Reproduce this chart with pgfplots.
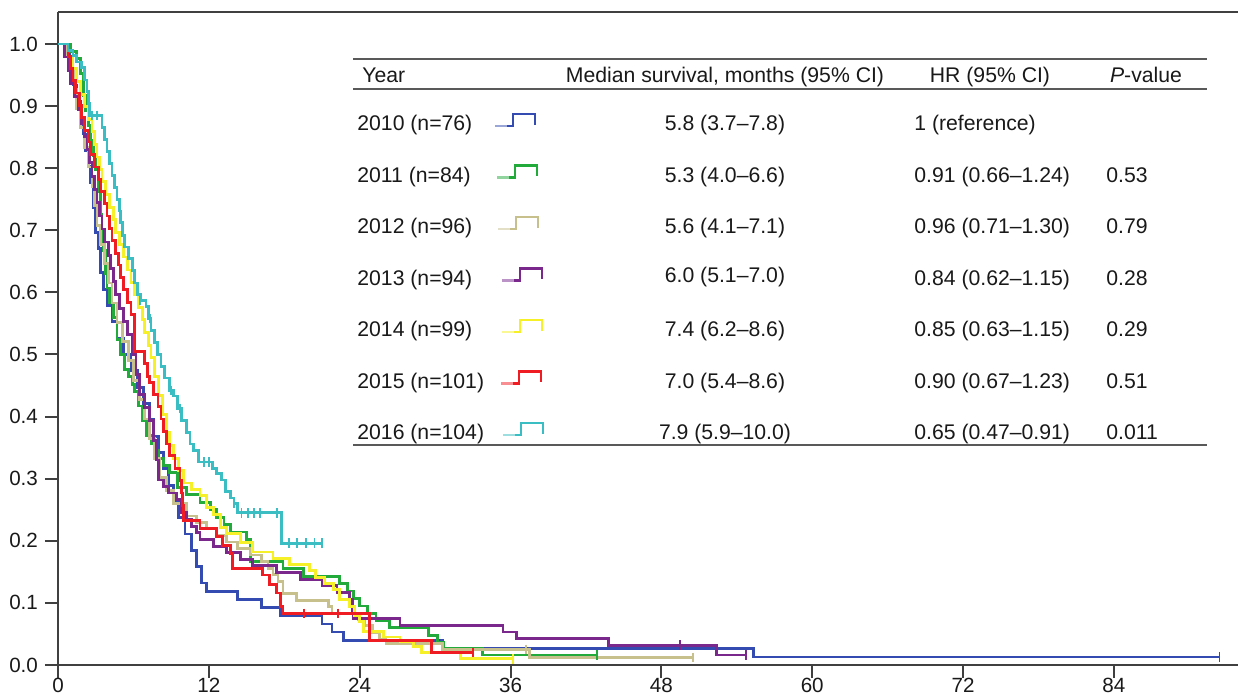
\documentclass[border=0pt]{standalone}
\usepackage{pgfplots}
\pgfplotsset{compat=1.18}
\usepackage{fontspec}
\setmainfont{Liberation Sans}

\definecolor{c2010}{RGB}{52,76,178}
\definecolor{c2011}{RGB}{34,170,58}
\definecolor{c2012}{RGB}{200,192,140}
\definecolor{c2013}{RGB}{122,40,140}
\definecolor{c2014}{RGB}{246,240,40}
\definecolor{c2015}{RGB}{240,28,36}
\definecolor{c2016}{RGB}{58,190,196}
\colorlet{axcol}{black!75}

% small step glyph for the table legend
\newcommand{\legicon}[3]{%
  \draw[#1!50, line width=1.4pt] (#2,#3+2.5) -- (#2+6,#3+2.5);
  \draw[#1, line width=1.4pt] (#2+6,#3+2.5) -- (#2+9,#3+2.5) -- (#2+9,#3+8.5)
        -- (#2+20,#3+8.5) -- (#2+20,#3+3);}

\begin{document}
\begin{tikzpicture}[x=1pt,y=1pt]
\begin{axis}[
    at={(0,0)}, anchor=south west,
    scale only axis, width=590pt, height=326.5pt,
    xmin=0, xmax=93.87, ymin=0, ymax=1.0515,
    axis lines=left,
    axis line style={-, line width=1pt, axcol},
    xtick={0,12,24,36,48,60,72,84},
    ytick={0,0.1,0.2,0.3,0.4,0.5,0.6,0.7,0.8,0.9,1.0},
    tick align=outside, major tick length=6.5pt,
    tick style={line width=1pt, axcol},
    /pgf/number format/assume math mode=true,
    yticklabel style={/pgf/number format/.cd, fixed, fixed zerofill, precision=1, /tikz/.cd},
    xticklabel style={yshift=3.5pt},
    ticklabel style={font=\fontsize{10.3}{12}\selectfont, text=black!90},
    every axis plot/.append style={const plot, line width=1.4pt},
]
\draw[line width=1pt, axcol] (rel axis cs:0,1) -- (rel axis cs:1,1);

% 2010
\addplot[c2010] coordinates {
(0,1.000)(0.5,0.987)(0.9,0.961)(1.2,0.934)(1.5,0.908)(1.8,0.882)(2.0,0.855)(2.2,0.829)
(2.4,0.803)(2.6,0.776)(2.8,0.737)(3.0,0.697)(3.2,0.671)(3.4,0.632)(3.6,0.605)(3.9,0.579)
(4.3,0.553)(4.7,0.526)(5.2,0.500)(5.8,0.474)(6.3,0.447)(6.8,0.421)(7.3,0.395)(7.6,0.368)
(8.0,0.342)(8.4,0.316)(8.8,0.289)(9.2,0.263)(9.6,0.237)(10.1,0.211)(10.6,0.184)(11.0,0.158)
(11.4,0.132)(11.8,0.118)(14.3,0.105)(16.2,0.092)(17.7,0.079)(21.0,0.066)(21.8,0.053)
(22.7,0.040)(30.6,0.027)(55.3,0.013)(92.4,0.013)};

% 2011
\addplot[c2011] coordinates {
(0,1.000)(1.0,0.988)(1.5,0.976)(1.8,0.952)(2.0,0.917)(2.2,0.893)(2.4,0.869)(2.6,0.845)
(2.8,0.821)(3.0,0.798)(3.2,0.762)(3.4,0.726)(3.5,0.702)(3.6,0.667)(3.8,0.631)(3.9,0.607)
(4.1,0.583)(4.4,0.560)(4.7,0.524)(5.0,0.500)(5.3,0.476)(5.6,0.464)(5.9,0.452)(6.1,0.440)
(6.4,0.417)(6.7,0.393)(7.05,0.369)(7.45,0.357)(7.7,0.345)(8.0,0.333)(8.4,0.321)(8.9,0.310)
(9.5,0.286)(10.2,0.274)(11.3,0.262)(12.1,0.250)(12.6,0.238)(13.2,0.226)(13.7,0.214)
(15.0,0.202)(15.3,0.167)(17.9,0.155)(19.5,0.143)(22.4,0.131)(23.0,0.119)(23.5,0.107)
(24.0,0.095)(24.6,0.083)(25.3,0.071)(26.4,0.060)(29.5,0.048)(30.2,0.036)(30.7,0.027)
(33.8,0.016)(42.9,0.016)};

% 2012
\addplot[c2012] coordinates {
(0,1.000)(0.7,0.979)(1.0,0.958)(1.3,0.927)(1.5,0.896)(1.8,0.865)(2.1,0.833)(2.4,0.802)
(2.7,0.771)(2.9,0.740)(3.1,0.708)(3.4,0.677)(3.7,0.646)(4.0,0.615)(4.3,0.583)(4.7,0.552)
(5.1,0.521)(5.6,0.490)(6.0,0.458)(6.5,0.427)(6.9,0.396)(7.3,0.365)(7.7,0.333)(8.1,0.302)
(8.6,0.281)(9.2,0.260)(10.2,0.240)(11.0,0.229)(11.8,0.219)(12.6,0.208)(13.4,0.198)
(14.3,0.188)(15.3,0.177)(16.2,0.167)(16.7,0.156)(17.1,0.146)(17.5,0.135)(17.9,0.115)
(19.0,0.104)(21.5,0.094)(21.8,0.083)(23.9,0.073)(24.4,0.063)(25.0,0.052)(25.6,0.042)
(26.1,0.035)(30.6,0.025)(37.5,0.012)(50.5,0.012)};

% 2013
\addplot[c2013] coordinates {
(0,1.000)(0.5,0.979)(0.8,0.957)(1.0,0.936)(1.3,0.915)(1.6,0.894)(1.9,0.872)(2.1,0.851)
(2.3,0.830)(2.5,0.809)(2.7,0.787)(2.9,0.766)(3.1,0.745)(3.3,0.723)(3.5,0.702)(3.7,0.681)
(4.0,0.660)(4.2,0.638)(4.4,0.617)(4.6,0.596)(4.9,0.574)(5.2,0.553)(5.5,0.532)(5.9,0.500)
(6.2,0.468)(6.5,0.436)(6.9,0.415)(7.3,0.394)(7.6,0.362)(7.85,0.330)(8.0,0.298)(8.4,0.287)
(8.8,0.277)(9.4,0.266)(9.8,0.245)(10.2,0.234)(10.6,0.223)(11.0,0.213)(11.3,0.202)
(12.4,0.191)(13.4,0.181)(14.5,0.170)(15.5,0.160)(17.4,0.149)(19.3,0.138)(21.0,0.128)
(22.2,0.117)(23.2,0.106)(23.4,0.085)(23.5,0.075)(27.2,0.064)(35.4,0.053)(36.5,0.043)
(43.8,0.032)(52.4,0.016)(54.7,0.016)};

% 2014
\addplot[c2014] coordinates {
(0,1.000)(0.8,0.980)(1.2,0.960)(1.5,0.939)(1.8,0.919)(2.1,0.899)(2.4,0.879)(2.7,0.859)
(2.9,0.838)(3.1,0.818)(3.3,0.798)(3.5,0.778)(3.8,0.758)(4.1,0.737)(4.4,0.717)(4.6,0.697)
(4.9,0.677)(5.2,0.657)(5.5,0.636)(5.8,0.616)(6.1,0.596)(6.4,0.576)(6.7,0.556)(6.9,0.535)
(7.2,0.515)(7.4,0.495)(7.7,0.465)(8.0,0.434)(8.3,0.404)(8.6,0.374)(8.9,0.354)(9.2,0.333)
(9.6,0.313)(10.0,0.293)(10.6,0.283)(11.3,0.273)(11.8,0.253)(12.4,0.242)(12.9,0.222)
(13.4,0.212)(14.5,0.197)(15.5,0.182)(17.1,0.172)(18.4,0.162)(20.0,0.152)(20.5,0.141)
(21.2,0.131)(21.9,0.121)(22.4,0.105)(23.2,0.094)(23.6,0.080)(24.0,0.070)(24.3,0.054)
(25.9,0.045)(27.2,0.038)(28.3,0.030)(28.9,0.020)(32.0,0.010)(36.2,0.010)};

% 2015
\addplot[c2015] coordinates {
(0,1.000)(0.8,0.980)(1.0,0.960)(1.2,0.941)(1.4,0.921)(1.7,0.901)(1.9,0.881)(2.1,0.861)
(2.4,0.842)(2.6,0.822)(2.9,0.802)(3.2,0.782)(3.4,0.762)(3.7,0.743)(3.9,0.723)(4.1,0.703)
(4.3,0.683)(4.6,0.663)(4.8,0.644)(5.0,0.624)(5.2,0.604)(5.5,0.584)(5.8,0.564)(6.1,0.505)
(6.9,0.485)(7.1,0.465)(7.3,0.455)(7.6,0.436)(7.95,0.416)(8.2,0.396)(8.4,0.376)(8.6,0.356)
(8.9,0.337)(9.3,0.317)(9.7,0.297)(9.8,0.277)(9.9,0.257)(10.0,0.233)(11.3,0.220)
(12.6,0.207)(13.1,0.193)(13.7,0.180)(13.9,0.155)(16.3,0.145)(16.8,0.130)(17.4,0.116)
(17.7,0.094)(17.9,0.083)(24.8,0.040)(29.7,0.020)(33.0,0.020)};

% 2016
\addplot[c2016] coordinates {
(0,1.000)(0.8,0.990)(1.2,0.981)(1.5,0.971)(1.9,0.962)(2.1,0.942)(2.3,0.923)(2.4,0.904)
(2.5,0.885)(3.5,0.865)(3.7,0.846)(3.9,0.827)(4.1,0.808)(4.3,0.788)(4.5,0.769)(4.7,0.750)
(4.9,0.731)(5.0,0.712)(5.1,0.692)(5.3,0.673)(5.6,0.654)(5.9,0.635)(6.1,0.615)(6.3,0.596)
(6.6,0.587)(7.0,0.577)(7.2,0.558)(7.4,0.538)(7.7,0.519)(7.9,0.500)(8.2,0.481)(8.5,0.462)
(8.9,0.442)(9.2,0.433)(9.5,0.413)(9.8,0.394)(10.2,0.375)(10.5,0.356)(10.8,0.346)
(11.2,0.327)(12.3,0.317)(12.6,0.308)(13.0,0.298)(13.3,0.279)(13.7,0.269)(14.0,0.260)
(14.3,0.245)(17.8,0.196)(21.0,0.196)};

% censored observations
\pgfplotsset{cens/.style={only marks, mark=|, mark size=2.4pt, mark options={line width=0.9pt}}}
\addplot[cens, c2010] coordinates {(92.4,0.013)};
\addplot[cens, c2011] coordinates {(42.9,0.016)};
\addplot[cens, c2012] coordinates {(50.5,0.012)(37.2,0.025)};
\addplot[cens, c2013] coordinates {(49.5,0.032)(54.7,0.016)};
\addplot[cens, c2014] coordinates {(36.2,0.010)};
\addplot[cens, c2015] coordinates {(19.6,0.083)(22.3,0.083)(33.0,0.020)};
\addplot[cens, c2016] coordinates {
(2.7,0.885)(3.1,0.885)(6.5,0.587)(7.3,0.558)(9.0,0.442)(9.7,0.413)(11.6,0.327)(12.0,0.327)
(14.0,0.260)(14.6,0.245)(15.1,0.245)(15.6,0.245)(16.1,0.245)(17.4,0.245)
(18.4,0.196)(19.0,0.196)(19.7,0.196)(20.4,0.196)(21.0,0.196)};
\end{axis}

% table legend
\begin{scope}[every node/.style={font=\fontsize{10.6}{12}\selectfont, text=black!90, inner sep=0pt}]
\draw[line width=1pt, black!65] (147.5,303) -- (574.5,303);
\draw[line width=1pt, black!65] (147.5,288) -- (574.5,288);
\draw[line width=1pt, black!65] (147.5,110) -- (574.5,110);
\node[anchor=base west] at (152,291) {Year};
\node[anchor=base] at (333.5,291) {Median survival, months (95\% CI)};
\node[anchor=base] at (466,291) {HR (95\% CI)};
\node[anchor=base] at (544,291) {\textit{P}-value};

\node[anchor=base west] at (149.5,267) {2010 (n=76)};
\node[anchor=base west] at (149.5,241.25) {2011 (n=84)};
\node[anchor=base west] at (149.5,215.5) {2012 (n=96)};
\node[anchor=base west] at (149.5,189.75) {2013 (n=94)};
\node[anchor=base west] at (149.5,164) {2014 (n=99)};
\node[anchor=base west] at (149.5,138.25) {2015 (n=101)};
\node[anchor=base west] at (149.5,112.5) {2016 (n=104)};

\node[anchor=base] at (333.5,267) {5.8 (3.7–7.8)};
\node[anchor=base] at (333.5,241.25) {5.3 (4.0–6.6)};
\node[anchor=base] at (333.5,215.5) {5.6 (4.1–7.1)};
\node[anchor=base] at (333.5,191) {6.0 (5.1–7.0)};
\node[anchor=base] at (333.5,164) {7.4 (6.2–8.6)};
\node[anchor=base] at (333.5,138.25) {7.0 (5.4–8.6)};
\node[anchor=base] at (333.5,112.5) {7.9 (5.9–10.0)};

\node[anchor=base west] at (428,267) {1 (reference)};
\node[anchor=base west] at (428,241.25) {0.91 (0.66–1.24)};
\node[anchor=base west] at (428,215.5) {0.96 (0.71–1.30)};
\node[anchor=base west] at (428,189.75) {0.84 (0.62–1.15)};
\node[anchor=base west] at (428,164) {0.85 (0.63–1.15)};
\node[anchor=base west] at (428,138.25) {0.90 (0.67–1.23)};
\node[anchor=base west] at (428,112.5) {0.65 (0.47–0.91)};

\node[anchor=base west] at (524,241.25) {0.53};
\node[anchor=base west] at (524,215.5) {0.79};
\node[anchor=base west] at (524,189.75) {0.28};
\node[anchor=base west] at (524,164) {0.29};
\node[anchor=base west] at (524,138.25) {0.51};
\node[anchor=base west] at (524,112.5) {0.011};
\end{scope}

\legicon{c2010}{218.5}{267}
\legicon{c2011}{219.5}{241.25}
\legicon{c2012}{220}{215.5}
\legicon{c2013}{222}{189.75}
\legicon{c2014}{222}{164}
\legicon{c2015}{221.5}{138.25}
\legicon{c2016}{222.5}{112.5}

\pgfresetboundingbox
\useasboundingbox (-29,-17.5) rectangle (590,332.5);
\end{tikzpicture}
\end{document}
